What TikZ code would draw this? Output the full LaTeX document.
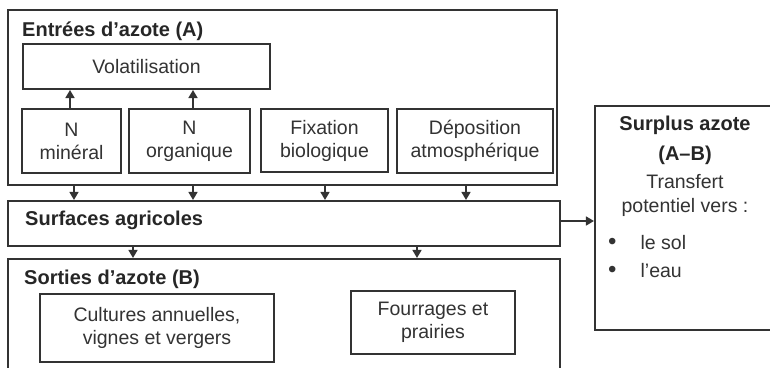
\documentclass[tikz,border=0pt]{standalone}
\usepackage{fontspec}
\setmainfont{Liberation Sans}
\usetikzlibrary{arrows.meta}
\definecolor{edge}{HTML}{333333}
\definecolor{txt}{HTML}{333333}
\tikzset{
  box/.style={draw=edge, line width=2pt, rectangle, inner sep=0pt, text=txt, align=center,
              font=\fontsize{19.5}{23}\selectfont},
  outerbox/.style={draw=edge, line width=2.1pt, rectangle, inner sep=0pt},
  title/.style={anchor=west, inner sep=0pt, text=black!85, font=\fontsize{20}{24}\selectfont\bfseries},
  plain/.style={inner sep=0pt, text=txt, align=center, font=\fontsize{19.5}{24}\selectfont},
  arr/.style={draw=edge, line width=1.5pt, -{Triangle[length=8pt,width=9pt]}}
}
\begin{document}
\begin{tikzpicture}[x=1pt,y=-1pt]
\useasboundingbox (0,0) rectangle (770,367);
\clip (0,0) rectangle (770,367);
\fill[white] (0,0) rectangle (770,367);
% outer frames
\node[outerbox, minimum width=549, minimum height=175] (A) at (282.5,97.5) {};
\node[outerbox, minimum width=552, minimum height=45] (surf) at (284,223.5) {};
\node[outerbox, minimum width=552, minimum height=140] (B) at (284,329) {};
\node[outerbox, minimum width=200, minimum height=224] (S) at (695,218) {};
% titles
\node[title] (tA) at (22,31) {Entrées d’azote (A)};
\node[title] (tS) at (25,220) {Surfaces agricoles};
\node[title] (tB) at (24,279) {Sorties d’azote (B)};
% inner boxes of A
\node[box, minimum width=247, minimum height=45] (vol) at (146.5,66.5) {Volatilisation};
\node[box, minimum width=99, minimum height=64] (nmin) at (71.5,141) {N\\minéral};
\node[box, minimum width=121, minimum height=64] (norg) at (189.5,141) {N\\organique};
\node[box, minimum width=127, minimum height=63] (fix) at (324.5,140.5) {Fixation\\biologique};
\node[box, minimum width=156, minimum height=64] (dep) at (475,141) {Déposition\\atmosphérique};
% inner boxes of B
\node[box, minimum width=234, minimum height=68] (cult) at (157,328) {Cultures annuelles,\\vignes et vergers};
\node[box, minimum width=164, minimum height=63] (four) at (433,322.5) {Fourrages et\\prairies};
% surplus text
\node[plain, font=\fontsize{20}{30}\selectfont\bfseries, text=black!85] (st) at (685,140) {Surplus azote\\(A–B)};
\node[plain] (tr) at (685,195) {Transfert\\potentiel vers :};
\node[plain, anchor=west] (b1) at (608,243) {{\fontsize{24}{24}\selectfont •}\hspace{24pt}le sol};
\node[plain, anchor=west] (b2) at (608,271) {{\fontsize{24}{24}\selectfont •}\hspace{24pt}l’eau};
% connectors
\draw[arr] (nmin.north) ++(-1.5,0) coordinate (u1) (u1) -- (u1 |- vol.south);
\draw[arr] (norg.north) ++(3.5,0) coordinate (u2) (u2) -- (u2 |- vol.south);
\coordinate (d1) at (74,0);
\coordinate (d2) at (193,0);
\coordinate (d3) at (325,0);
\coordinate (d4) at (466,0);
\coordinate (e1) at (133,0);
\coordinate (e2) at (417,0);
\foreach \c in {d1,d2,d3,d4} \draw[arr] (A.south -| \c) -- (surf.north -| \c);
\foreach \c in {e1,e2} \draw[arr] (surf.south -| \c) -- (B.north -| \c);
\draw[arr] (surf.east |- 0,221) coordinate (r0) (r0) -- (S.west |- r0);
\end{tikzpicture}
\end{document}
